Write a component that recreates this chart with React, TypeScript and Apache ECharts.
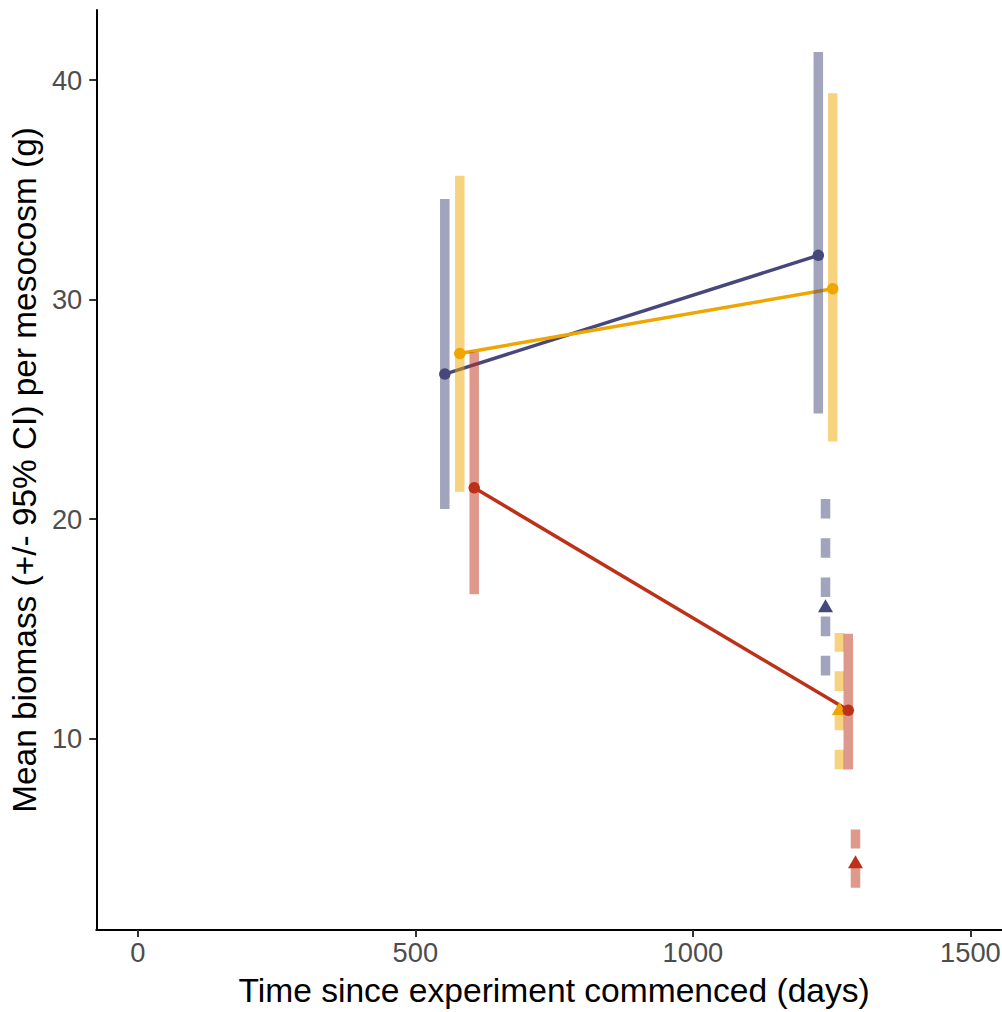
import React, { useEffect, useRef } from "react";
import * as echarts from "echarts";

// ---- data ----
const groupColors = ["#46477A", "#EFA600", "#BE3119"];
const groupBarColors = ["rgba(70,71,122,0.5)", "rgba(239,166,0,0.5)", "rgba(190,49,25,0.5)"];

// solid (circle) series: two time points per group
const solidTime = [
  [553, 1226],
  [580, 1252],
  [606, 1280],
];
const solidMean = [
  [26.61, 32.02],
  [27.55, 30.5],
  [21.43, 11.29],
];
const solidLow = [
  [20.46, 24.82],
  [21.25, 23.54],
  [16.58, 8.59],
];
const solidHigh = [
  [34.59, 41.29],
  [35.65, 39.41],
  [27.61, 14.78],
];

// dashed (triangle) estimates: one per group
const dashedTime = [1239, 1264, 1293];
const dashedMean = [16.06, 11.37, 4.39];
const dashedLow = [12.88, 8.6, 3.21];
const dashedHigh = [20.95, 14.81, 5.86];

const xTicks = [0, 500, 1000, 1500];
const yTicks = [10, 20, 30, 40];

const FONT = "'Liberation Sans', Arial, Helvetica, sans-serif";

export default function App() {
  const ref = useRef<HTMLDivElement>(null);

  useEffect(() => {
    if (!ref.current) return;
    const chart = echarts.init(ref.current, null, { renderer: "svg" });

    const series: any[] = [];

    groupColors.forEach((color, g) => {
      series.push({
        type: "line",
        z: 1,
        symbol: "none",
        data: solidTime[g].map((t, i) => [t, solidMean[g][i]]),
        lineStyle: { color, width: 3.5 },
        silent: true,
      });
    });

    groupColors.forEach((color, g) => {
      series.push({
        type: "custom",
        z: 2,
        data: [[dashedTime[g], dashedLow[g], dashedHigh[g]]],
        encode: { x: 0, y: [1, 2] },
        renderItem: (params: any, api: any) => {
          const p1 = api.coord([api.value(0), api.value(1)]);
          const p2 = api.coord([api.value(0), api.value(2)]);
          return {
            type: "line",
            shape: { x1: p1[0], y1: p1[1], x2: p2[0], y2: p2[1] },
            style: { stroke: groupBarColors[g], lineWidth: 9.5, lineDash: [19.6, 19.6], lineCap: "butt" },
          };
        },
        silent: true,
      });
    });

    groupColors.forEach((color, g) => {
      series.push({
        type: "scatter",
        z: 3,
        symbol: "triangle",
        symbolSize: [15, 13],
        data: [[dashedTime[g], dashedMean[g]]],
        itemStyle: { color, opacity: 1 },
        silent: true,
      });
    });

    groupColors.forEach((color, g) => {
      series.push({
        type: "custom",
        z: 4,
        data: solidTime[g].map((t, i) => [t, solidLow[g][i], solidHigh[g][i]]),
        encode: { x: 0, y: [1, 2] },
        renderItem: (params: any, api: any) => {
          const p1 = api.coord([api.value(0), api.value(1)]);
          const p2 = api.coord([api.value(0), api.value(2)]);
          return {
            type: "line",
            shape: { x1: p1[0], y1: p1[1], x2: p2[0], y2: p2[1] },
            style: { stroke: groupBarColors[g], lineWidth: 9.5, lineCap: "butt" },
          };
        },
        silent: true,
      });
    });

    groupColors.forEach((color, g) => {
      series.push({
        type: "scatter",
        z: 5,
        symbol: "circle",
        symbolSize: 11.5,
        data: solidTime[g].map((t, i) => [t, solidMean[g][i]]),
        itemStyle: { color, opacity: 1 },
        silent: true,
      });
    });

    chart.setOption({
      animation: false,
      backgroundColor: "#FFFFFF",
      grid: { left: 94.7, top: 10, bottom: 80, right: 0, containLabel: false },
      xAxis: {
        type: "value",
        min: -75,
        max: 1575,
        name: "Time since experiment commenced (days)",
        nameLocation: "middle",
        nameGap: 43,
        nameTextStyle: { fontFamily: FONT, fontSize: 33.6, color: "#000000" },
        axisLine: { show: true, onZero: false, lineStyle: { color: "#000000", width: 2 } },
        axisTick: { show: true, length: 7, customValues: xTicks, lineStyle: { color: "#333333", width: 2 } },
        axisLabel: {
          customValues: xTicks,
          formatter: (v: number) => String(v),
          fontFamily: FONT,
          fontSize: 27.3,
          color: "#4D4D4D",
          margin: 9,
        },
        splitLine: { show: false },
      },
      yAxis: {
        type: "value",
        min: 1.28,
        max: 43.2,
        name: "Mean biomass (+/- 95% CI) per mesocosm (g)",
        nameLocation: "middle",
        nameGap: 53,
        nameRotate: 90,
        nameTextStyle: { fontFamily: FONT, fontSize: 33.4, color: "#000000" },
        axisLine: { show: true, onZero: false, lineStyle: { color: "#000000", width: 2 } },
        axisTick: { show: true, length: 7, customValues: yTicks, lineStyle: { color: "#333333", width: 2 } },
        axisLabel: {
          customValues: yTicks,
          formatter: (v: number) => String(v),
          fontFamily: FONT,
          fontSize: 27.3,
          color: "#4D4D4D",
          margin: 14,
        },
        splitLine: { show: false },
      },
      series,
    });

    return () => chart.dispose();
  }, []);

  return (
    <div
      ref={ref}
      style={{ position: "fixed", left: 0, top: 0, width: "1012px", height: "1012px", background: "#fff" }}
    />
  );
}
